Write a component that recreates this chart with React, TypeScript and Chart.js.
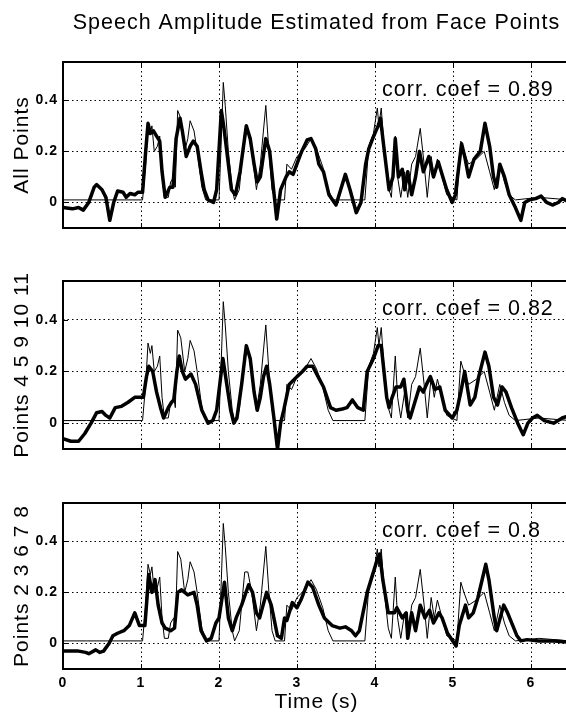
import React, { useEffect, useRef } from "react";
import { Chart, registerables } from "chart.js";

Chart.register(...registerables);

const FONT = "'Liberation Sans', Arial, Helvetica, sans-serif";

const chartTitle = "Speech Amplitude Estimated from Face Points";
const panelLabels = ["All Points", "Points 4 5 9 10 11", "Points 2 3 6 7 8"];
const corrLabels = ["corr. coef = 0.89", "corr. coef = 0.82", "corr. coef = 0.8"];
const xAxisLabel = "Time (s)";
const xTickValues = [0, 1, 2, 3, 4, 5, 6];
const yTickValues = [0, 0.2, 0.4];
const xMin = 0;
const xMax = 6.5;
const yMin = -0.1;
const yMax = 0.55;
const corrAnchorT = 4.09;
const corrAnchorV = 0.44;

// measured speech amplitude (thin line), same in every panel
const actualT = [0.0, 0.3, 1.02, 1.06, 1.09, 1.12, 1.14, 1.17, 1.21, 1.24, 1.27, 1.3, 1.35, 1.38, 1.42, 1.44, 1.47, 1.51, 1.56, 1.6, 1.63, 1.68, 1.72, 1.78, 1.83, 2.0, 2.03, 2.055, 2.08, 2.12, 2.17, 2.2, 2.26, 2.33, 2.37, 2.42, 2.48, 2.53, 2.6, 2.64, 2.68, 2.72, 2.84, 2.87, 2.93, 3.0, 3.1, 3.18, 3.25, 3.33, 3.4, 3.46, 3.87, 3.92, 3.98, 4.03, 4.05, 4.08, 4.12, 4.17, 4.21, 4.26, 4.29, 4.33, 4.38, 4.42, 4.47, 4.52, 4.58, 4.63, 4.67, 4.72, 4.76, 4.8, 4.86, 4.92, 5.05, 5.1, 5.14, 5.2, 5.3, 5.4, 5.47, 5.53, 5.6, 5.66, 5.72, 5.8, 6.1, 6.5];
const actualV = [0.01, 0.01, 0.01, 0.15, 0.31, 0.27, 0.3, 0.2, 0.22, 0.26, 0.1, 0.02, 0.02, 0.08, 0.1, 0.06, 0.36, 0.33, 0.2, 0.25, 0.32, 0.28, 0.2, 0.06, 0.01, 0.01, 0.25, 0.47, 0.38, 0.2, 0.05, 0.01, 0.05, 0.28, 0.28, 0.2, 0.05, 0.15, 0.38, 0.2, 0.05, 0.01, 0.01, 0.15, 0.13, 0.18, 0.21, 0.25, 0.21, 0.14, 0.05, 0.01, 0.01, 0.22, 0.27, 0.37, 0.3, 0.37, 0.2, 0.06, 0.02, 0.26, 0.1, 0.02, 0.12, 0.02, 0.15, 0.18, 0.29, 0.15, 0.02, 0.18, 0.1, 0.17, 0.1, 0.03, 0.01, 0.24, 0.2, 0.15, 0.17, 0.2, 0.12, 0.05, 0.15, 0.08, 0.03, 0.01, 0.02, 0.01];

// estimate from all points (thick line, panel 1)
const estAllT = [0.0, 0.12, 0.2, 0.26, 0.33, 0.4, 0.43, 0.5, 0.55, 0.6, 0.65, 0.7, 0.77, 0.81, 0.86, 0.92, 0.96, 1.02, 1.06, 1.09, 1.12, 1.16, 1.2, 1.24, 1.27, 1.31, 1.37, 1.41, 1.45, 1.5, 1.53, 1.58, 1.63, 1.67, 1.72, 1.77, 1.81, 1.86, 1.93, 1.97, 2.03, 2.06, 2.1, 2.16, 2.21, 2.27, 2.35, 2.4, 2.45, 2.49, 2.53, 2.6, 2.65, 2.7, 2.74, 2.79, 2.86, 2.9, 2.95, 3.01, 3.06, 3.13, 3.18, 3.24, 3.28, 3.34, 3.41, 3.5, 3.55, 3.62, 3.68, 3.76, 3.82, 3.88, 3.92, 3.97, 4.04, 4.07, 4.12, 4.18, 4.23, 4.26, 4.3, 4.35, 4.38, 4.42, 4.47, 4.52, 4.57, 4.62, 4.69, 4.75, 4.81, 4.87, 4.92, 4.99, 5.03, 5.11, 5.15, 5.2, 5.27, 5.35, 5.41, 5.47, 5.52, 5.56, 5.6, 5.66, 5.72, 5.8, 5.87, 5.92, 5.98, 6.06, 6.13, 6.2, 6.28, 6.35, 6.4, 6.5];
const estAllV = [-0.02, -0.025, -0.02, -0.03, 0.0, 0.06, 0.07, 0.05, 0.02, -0.07, 0.0, 0.045, 0.04, 0.02, 0.035, 0.03, 0.04, 0.04, 0.2, 0.31, 0.27, 0.28, 0.26, 0.24, 0.12, 0.02, 0.06, 0.06, 0.25, 0.33, 0.28, 0.18, 0.22, 0.24, 0.22, 0.12, 0.05, 0.01, 0.0, 0.05, 0.36, 0.3, 0.2, 0.05, 0.03, 0.12, 0.3, 0.25, 0.15, 0.08, 0.1, 0.25, 0.2, 0.05, -0.065, 0.05, 0.1, 0.12, 0.11, 0.16, 0.2, 0.245, 0.25, 0.21, 0.15, 0.12, 0.03, -0.01, 0.04, 0.11, 0.05, -0.04, 0.0, 0.15, 0.21, 0.25, 0.3, 0.33, 0.2, 0.05, 0.1, 0.25, 0.1, 0.13, 0.05, 0.12, 0.03, 0.1, 0.2, 0.12, 0.18, 0.1, 0.16, 0.1, 0.05, 0.0, 0.03, 0.23, 0.18, 0.1, 0.17, 0.2, 0.31, 0.22, 0.1, 0.06, 0.15, 0.1, 0.03, -0.02, -0.07, 0.0, 0.01, 0.015, 0.025, 0.0, -0.01, 0.0, 0.015, 0.0];

// estimate from points 4 5 9 10 11 (thick line, panel 2)
const estLipT = [0.0, 0.1, 0.2, 0.28, 0.36, 0.43, 0.5, 0.55, 0.6, 0.67, 0.75, 0.83, 0.92, 1.0, 1.03, 1.07, 1.1, 1.15, 1.2, 1.25, 1.29, 1.35, 1.39, 1.42, 1.46, 1.49, 1.53, 1.57, 1.64, 1.7, 1.78, 1.86, 1.92, 1.97, 2.05, 2.1, 2.15, 2.19, 2.23, 2.29, 2.35, 2.4, 2.45, 2.49, 2.53, 2.57, 2.61, 2.65, 2.7, 2.75, 2.79, 2.83, 2.9, 3.0, 3.07, 3.13, 3.2, 3.27, 3.34, 3.43, 3.5, 3.58, 3.64, 3.71, 3.78, 3.85, 3.9, 3.98, 4.04, 4.08, 4.15, 4.18, 4.22, 4.27, 4.33, 4.37, 4.42, 4.45, 4.5, 4.57, 4.62, 4.66, 4.71, 4.77, 4.83, 4.9, 4.99, 5.05, 5.1, 5.15, 5.22, 5.28, 5.33, 5.41, 5.46, 5.52, 5.57, 5.63, 5.68, 5.75, 5.83, 5.9, 5.96, 6.02, 6.08, 6.17, 6.29, 6.4, 6.5];
const estLipV = [-0.06, -0.07, -0.07, -0.04, 0.0, 0.04, 0.045, 0.03, 0.02, 0.06, 0.065, 0.08, 0.1, 0.1, 0.1, 0.18, 0.22, 0.2, 0.12, 0.06, 0.02, 0.06, 0.08, 0.09, 0.2, 0.26, 0.2, 0.17, 0.19, 0.15, 0.05, 0.0, 0.01, 0.05, 0.25, 0.15, 0.05, 0.0, 0.02, 0.15, 0.3, 0.25, 0.12, 0.05, 0.1, 0.18, 0.22, 0.15, 0.03, -0.1, 0.0, 0.05, 0.15, 0.18, 0.2, 0.22, 0.22, 0.18, 0.14, 0.06, 0.05, 0.055, 0.06, 0.09, 0.06, 0.05, 0.2, 0.25, 0.3, 0.3, 0.1, 0.06, 0.1, 0.14, 0.14, 0.17, 0.05, 0.02, 0.07, 0.14, 0.12, 0.15, 0.18, 0.13, 0.14, 0.05, 0.02, 0.05, 0.12, 0.2, 0.07, 0.1, 0.18, 0.275, 0.22, 0.1, 0.07, 0.14, 0.12, 0.06, 0.0, -0.045, 0.0, 0.02, 0.03, 0.01, 0.0, 0.02, 0.03];

// estimate from points 2 3 6 7 8 (thick line, panel 3)
const estJawT = [0.0, 0.2, 0.29, 0.33, 0.42, 0.47, 0.52, 0.59, 0.64, 0.7, 0.78, 0.85, 0.92, 0.98, 1.05, 1.1, 1.14, 1.18, 1.22, 1.27, 1.31, 1.38, 1.43, 1.47, 1.52, 1.6, 1.68, 1.72, 1.77, 1.84, 1.9, 1.96, 2.0, 2.07, 2.12, 2.17, 2.22, 2.29, 2.38, 2.43, 2.48, 2.52, 2.61, 2.67, 2.75, 2.8, 2.84, 2.87, 2.94, 3.0, 3.05, 3.14, 3.2, 3.28, 3.35, 3.45, 3.55, 3.62, 3.7, 3.75, 3.8, 3.9, 3.95, 4.03, 4.06, 4.1, 4.17, 4.25, 4.28, 4.35, 4.4, 4.42, 4.47, 4.52, 4.58, 4.64, 4.7, 4.75, 4.82, 4.86, 4.93, 5.04, 5.08, 5.16, 5.2, 5.26, 5.32, 5.42, 5.46, 5.53, 5.56, 5.65, 5.7, 5.82, 5.87, 5.95, 6.1, 6.3, 6.5];
const estJawV = [-0.03, -0.03, -0.035, -0.04, -0.025, -0.035, -0.03, 0.0, 0.03, 0.04, 0.05, 0.07, 0.12, 0.07, 0.07, 0.27, 0.2, 0.25, 0.15, 0.08, 0.06, 0.05, 0.06, 0.2, 0.21, 0.19, 0.2, 0.15, 0.05, 0.01, 0.02, 0.08, 0.1, 0.24, 0.1, 0.05, 0.1, 0.15, 0.23, 0.2, 0.12, 0.1, 0.2, 0.15, 0.03, 0.02, 0.1, 0.09, 0.16, 0.14, 0.17, 0.24, 0.22, 0.15, 0.1, 0.07, 0.06, 0.065, 0.05, 0.03, 0.05, 0.2, 0.25, 0.33, 0.35, 0.25, 0.12, 0.12, 0.14, 0.1, 0.12, 0.02, 0.12, 0.05, 0.15, 0.1, 0.13, 0.08, 0.12, 0.1, 0.04, -0.01, 0.07, 0.15, 0.1, 0.12, 0.18, 0.31, 0.25, 0.1, 0.05, 0.15, 0.12, 0.03, 0.01, 0.015, 0.01, 0.01, 0.005];

const estimateT = [estAllT, estLipT, estJawT];
const estimateV = [estAllV, estLipV, estJawV];

// layout (page pixels)
const canvasWidth = 570;
const panelTops = [0, 245, 475];
const panelHeights = [245, 230, 240];
const plotTops = [62, 36, 28];
const plotBottoms = [228, 204, 194];

const toPoints = (ts: number[], vs: number[]) => ts.map((t, i) => ({ x: t, y: vs[i] }));

const decorPlugin = {
  id: "decor",
  beforeDraw(chart: any) {
    chart.ctx.letterSpacing = "1px";
  },
  afterDraw(chart: any, _args: any, opts: any) {
    const { ctx, chartArea: ca, scales } = chart;
    ctx.save();
    ctx.strokeStyle = "#000";
    ctx.lineWidth = 1;
    ctx.beginPath();
    for (const v of yTickValues) {
      const y = Math.round(scales.y.getPixelForValue(v)) + 0.5;
      ctx.moveTo(ca.left, y);
      ctx.lineTo(ca.left + 5, y);
    }
    for (const v of xTickValues) {
      const x = Math.round(scales.x.getPixelForValue(v)) + 0.5;
      ctx.moveTo(x, ca.bottom);
      ctx.lineTo(x, ca.bottom - 5);
      ctx.moveTo(x, ca.top);
      ctx.lineTo(x, ca.top + 5);
    }
    ctx.stroke();
    ctx.lineWidth = 2;
    ctx.strokeRect(ca.left, ca.top, ca.right - ca.left, ca.bottom - ca.top);
    ctx.fillStyle = "#000";
    ctx.font = `21.5px ${FONT}`;
    ctx.letterSpacing = "1px";
    ctx.textAlign = "left";
    ctx.textBaseline = "middle";
    ctx.fillText(opts.text, scales.x.getPixelForValue(corrAnchorT), scales.y.getPixelForValue(corrAnchorV));
    ctx.restore();
  },
};

function Panel({ index }: { index: number }) {
  const ref = useRef<HTMLCanvasElement | null>(null);
  useEffect(() => {
    if (!ref.current) return;
    const h = panelHeights[index];
    const isFirst = index === 0;
    const isLast = index === 2;
    const chart = new Chart(ref.current, {
      type: "line",
      data: {
        datasets: [
          {
            label: "estimate",
            data: toPoints(estimateT[index], estimateV[index]),
            borderColor: "#000",
            borderWidth: 3.5,
            pointRadius: 0,
            tension: 0,
            borderJoinStyle: "round",
            borderCapStyle: "round",
            fill: false,
          },
          {
            label: "speech",
            data: toPoints(actualT, actualV),
            borderColor: "#000",
            borderWidth: 1,
            pointRadius: 0,
            tension: 0,
            fill: false,
          },
        ],
      },
      options: {
        animation: false,
        responsive: false,
        devicePixelRatio: 1,
        layout: { padding: { top: isFirst ? 0 : plotTops[index], left: 0, right: 0, bottom: 0 } },
        plugins: {
          legend: { display: false },
          tooltip: { enabled: false },
          title: {
            display: isFirst,
            text: chartTitle,
            fullSize: false,
            color: "#000",
            font: { family: FONT, size: 21.5, weight: "normal", lineHeight: 1.2 },
            padding: { top: 10, bottom: 62 - 10 - 25.8 },
          },
          decor: { text: corrLabels[index] },
        } as any,
        scales: {
          x: {
            type: "linear",
            min: xMin,
            max: xMax,
            afterBuildTicks: (s: any) => {
              s.ticks = xTickValues.map((v) => ({ value: v }));
            },
            afterFit: (s: any) => {
              s.height = h - plotBottoms[index];
            },
            grid: { color: "#000", lineWidth: 1, drawTicks: false },
            border: { display: false, dash: [1.5, 3] },
            ticks: {
              display: isLast,
              color: "#000",
              padding: 6,
              maxRotation: 0,
              font: { family: FONT, size: 14, weight: "bold" },
              callback: (v: any) => String(v),
            },
            title: {
              display: isLast,
              text: xAxisLabel,
              color: "#000",
              font: { family: FONT, size: 21 },
              padding: { top: 0, bottom: 0 },
            },
          },
          y: {
            type: "linear",
            min: yMin,
            max: yMax,
            afterBuildTicks: (s: any) => {
              s.ticks = yTickValues.map((v) => ({ value: v }));
            },
            afterFit: (s: any) => {
              s.width = 63;
            },
            grid: { color: "#000", lineWidth: 1, drawTicks: false },
            border: { display: false, dash: [1.5, 3] },
            ticks: {
              color: "#000",
              padding: 5,
              font: { family: FONT, size: 14, weight: "bold" },
              callback: (v: any) => String(Math.round(v * 10) / 10),
            },
            title: {
              display: true,
              text: panelLabels[index],
              color: "#000",
              font: { family: FONT, size: 21 },
              padding: { top: 10, bottom: 0 },
            },
          },
        },
      },
      plugins: [decorPlugin as any],
    });
    return () => chart.destroy();
  }, [index]);
  return (
    <canvas
      ref={ref}
      width={canvasWidth}
      height={panelHeights[index]}
      style={{
        position: "absolute",
        left: 0,
        top: panelTops[index],
        width: canvasWidth,
        height: panelHeights[index],
        display: "block",
      }}
    />
  );
}

export default function App() {
  return (
    <div
      style={{
        position: "absolute",
        left: 0,
        top: 0,
        width: 566,
        height: 715,
        overflow: "hidden",
        background: "#fff",
      }}
    >
      {[0, 1, 2].map((i) => (
        <Panel key={i} index={i} />
      ))}
    </div>
  );
}
